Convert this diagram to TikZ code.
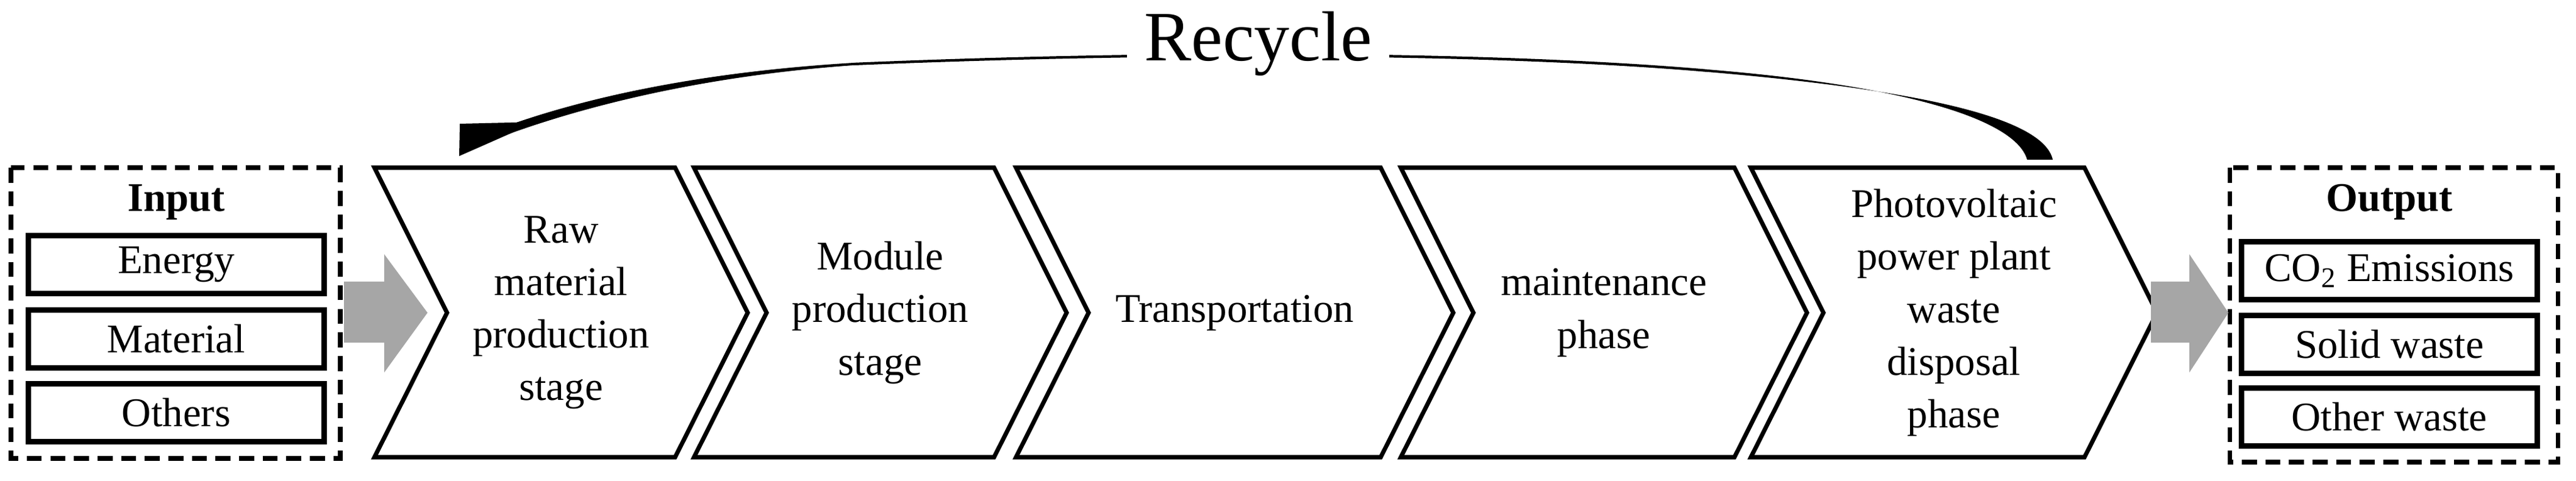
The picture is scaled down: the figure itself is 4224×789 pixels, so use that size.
\documentclass[tikz,border=0pt]{standalone}
\usepackage{fontspec}
\setmainfont{Liberation Serif}
\begin{document}
\begin{tikzpicture}[x=0.01cm,y=-0.01cm,
  chev/.style={draw=black,line width=2pt,line join=miter},
  lbl/.style={align=center,font=\fontsize{19}{24.5}\selectfont},
  item/.style={draw=black,line width=2.4pt,minimum width=4.85cm,minimum height=0.95cm,inner sep=0pt,font=\fontsize{19}{24.5}\selectfont},
  dbox/.style={draw=black,line width=2pt,dash pattern=on 7pt off 4pt},
  grayarrow/.style={fill=black!35,draw=none}]
\useasboundingbox (0,0) rectangle (4224,789);
\newcommand\chev[4]{%
  \draw[chev] (#2,275) -- (#3,275) -- ({#3+119},513) -- (#3,750) -- (#2,750) -- ({#2+119},513) -- cycle;
  \node[lbl] (#1) at ({(#2+119+#3)/2},513) {#4};}
% input
\draw[dbox] (18,275) rectangle (558,752);
\node[font=\bfseries\fontsize{19}{24.5}\selectfont] (inp) at (289,332) {Input};
\node[item] (energy) at (289,434) {Energy};
\node[item] (material) at (289,556) {Material};
\node[item] (others) at (289,677) {Others};
% output
\draw[dbox] (3656,275) rectangle (4194,758);
\node[font=\bfseries\fontsize{19}{24.5}\selectfont] (outp) at (3918,332) {Output};
\node[item] (co2) at (3918,444) {CO\textsubscript{2} Emissions};
\node[item] (solid) at (3918,565) {Solid waste};
\node[item] (otherw) at (3918,684) {Other waste};
% chevrons
\chev{c1}{614}{1107}{Raw\\material\\production\\stage}
\chev{c2}{1138}{1630}{Module\\production\\stage}
\chev{c3}{1666}{2264}{Transportation}
\chev{c4}{2297}{2844}{maintenance\\phase}
\chev{c5}{2871}{3418}{Photovoltaic\\power plant\\waste\\disposal\\phase}
% gray arrows
\fill[grayarrow] (564,462) -- (630,462) -- (630,417) -- (701,513) -- (630,611) -- (630,562) -- (564,562) -- cycle;
\fill[grayarrow] (3527,462) -- (3590,462) -- (3590,417) -- (3654,513) -- (3590,611) -- (3590,562) -- (3527,562) -- cycle;
% recycle arrow
\coordinate (rs) at (3345,262);
\coordinate (re) at (760,232);
\fill (3324,262) .. controls (3305,195) and (3120,140) .. (2800,114)
   -- (2800,118) .. controls (3130,146) and (3350,190) .. (3366,262) -- cycle;
\draw[line width=1.2pt] (2800,116) .. controls (2500,90) and (2000,80) .. (1400,105);
\fill (1400,103) .. controls (1150,118) and (950,160) .. (800,218)
   -- (812,228) .. controls (960,172) and (1160,124) .. (1400,107) -- cycle;
\fill (753,256) -- (754,203) -- (880,200) -- cycle;
\node[fill=white,inner xsep=8pt,inner ysep=2pt,font=\fontsize{33}{36}\selectfont] (rec) at (2063,72) {Recycle};
\end{tikzpicture}
\end{document}
